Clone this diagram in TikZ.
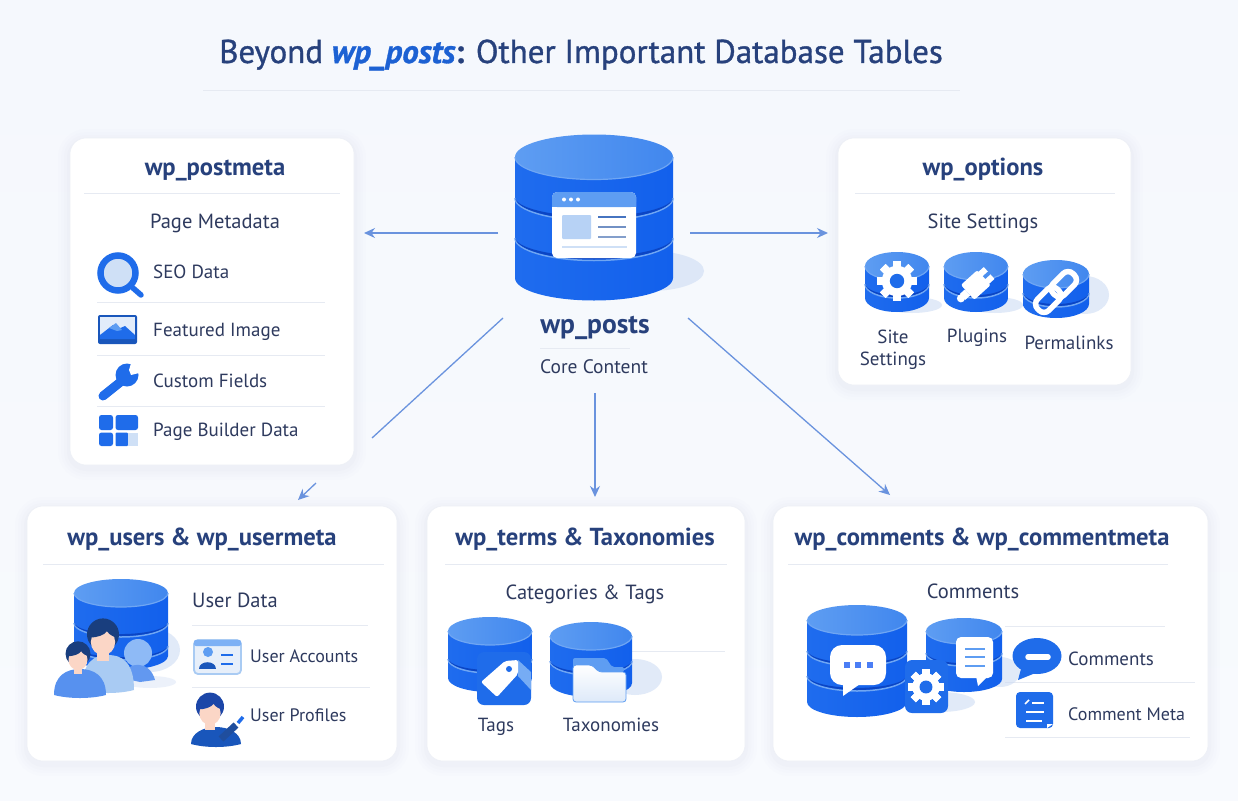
\documentclass[tikz,border=0pt]{standalone}
\usepackage{fontspec}
\setmainfont{PT Sans}
\usetikzlibrary{arrows.meta,calc}
\definecolor{bgc}{HTML}{F5F8FD}
\definecolor{navy}{HTML}{27417C}
\definecolor{txt}{HTML}{2E3A5E}
\definecolor{rulec}{HTML}{E6EAF2}
\definecolor{arrowc}{HTML}{6A93DE}
\definecolor{dbL}{HTML}{1F6CEE}
\definecolor{dbR}{HTML}{1260EC}
\definecolor{topL}{HTML}{5E9DF2}
\definecolor{topR}{HTML}{4187EE}
\definecolor{bandD}{HTML}{0B45C4}
\definecolor{bandL}{HTML}{6FA6F3}
\definecolor{shad}{HTML}{C9D9F3}
\definecolor{iconb}{HTML}{1F6CEA}
\definecolor{iconl}{HTML}{CFE0F6}
\definecolor{skin}{HTML}{FBD6C6}
\definecolor{hair}{HTML}{1F4E9E}
\definecolor{pale}{HTML}{A9CBF3}
\tikzset{
  cardbox/.style={draw=rulec!70,line width=.6pt,fill=white,rounded corners=16pt,inner sep=0pt},
  head/.style={font=\fontsize{24.6}{28}\selectfont\bfseries,text=navy,inner sep=0pt,text height=20pt,text depth=4.5pt},
  sub/.style={font=\fontsize{20.5}{23}\selectfont,text=txt,inner sep=0pt,text height=17pt,text depth=3.5pt},
  lab/.style={font=\fontsize{19}{22}\selectfont,text=txt,inner sep=0pt,text height=16pt,text depth=3pt},
  labl/.style={lab,anchor=west},
  labs/.style={labl,font=\fontsize{18}{21}\selectfont},
  sep/.style={draw=rulec,line width=.9pt},
  conn/.style={draw=arrowc,line width=1.3pt},
  arrowed/.style={conn,-{Stealth[length=11pt,width=10pt]}},
  softs/.style={fill=shad,opacity=.55},
}
% card: name x1 y1 x2 y2
\newcommand{\cardpanel}[5]{%
  \foreach \d/\o in {12/.010,9/.012,6/.016,3/.02}{
    \fill[blue!40!black!50,opacity=\o,rounded corners={16+\d}] ({#2-\d},{#3-\d+3}) rectangle ({#4+\d},{#5+\d+3});
  }
  \node[cardbox,minimum width={#4-#2},minimum height={#5-#3}] (#1) at ({(#2+#4)/2},{(#3+#5)/2}) {};
}
% cylinder: cx topy rx ry boty bands
\newcommand{\dbcyl}[6]{%
  \path[left color=dbL,right color=dbR] ({#1-#3},#2) -- ({#1-#3},#5) arc[start angle=180,end angle=0,x radius=#3,y radius=#4] -- ({#1+#3},#2) -- cycle;
  \foreach \b in {#6}{
    \draw[bandL,line width=1.5pt] ({#1-#3},{\b+1}) arc[start angle=180,end angle=0,x radius=#3,y radius=#4];
    \fill[bandD] ({#1-#3},\b) arc[start angle=180,end angle=0,x radius=#3,y radius=#4] arc[start angle=0,end angle=180,x radius=#3,y radius={#4*.86}] -- cycle;
  }
  \path[left color=topL,right color=topR] (#1,#2) ellipse [x radius=#3,y radius=#4];
  \draw[bandL,line width=1.2pt] ({#1-#3},#2) arc[start angle=180,end angle=0,x radius=#3,y radius=#4];
}
% gear: cx cy r toothcolor(hole)
\newcommand{\gearicon}[4]{%
  \begin{scope}[shift={(#1,#2)}]
    \foreach \a in {0,45,...,315}{
      \fill[white,rotate=\a] ({-#3*.2},{-#3}) rectangle ({#3*.2},{#3});
    }
    \fill[white] (0,0) circle ({#3*.76});
    \fill[#4] (0,0) circle ({#3*.36});
  \end{scope}
}
% bust: cx top halfwidth bottom colour
\newcommand{\bust}[5]{%
  \fill[#5] ({#1-#3},{#4-2}) .. controls ({#1-#3},{#2+6}) and ({#1-#3*.5},#2) .. (#1,#2) .. controls ({#1+#3*.5},#2) and ({#1+#3},{#2+6}) .. ({#1+#3},{#4-2}) .. controls ({#1+#3*.4},{#4+2}) and ({#1-#3*.4},{#4+2}) .. ({#1-#3},{#4-2}) -- cycle;
}
% head: cx cy r hair
\newcommand{\headicon}[4]{%
  \fill[skin] ({#1-#3*.35},#2) rectangle ({#1+#3*.35},{#2+#3*1.55});
  \fill[#4] (#1,{#2-#3*.1}) circle (#3);
  \fill[skin] (#1,{#2+#3*.38}) ellipse [x radius={#3*.76},y radius={#3*.82}];
  \fill[#4] ({#1-#3*.85},{#2+#3*.1}) .. controls ({#1-#3*.4},{#2+#3*.1}) and ({#1+#3*.1},{#2-#3*.05}) .. ({#1+#3*.25},{#2-#3*.3}) .. controls ({#1+#3*.4},{#2-#3*.05}) and ({#1+#3*.7},{#2+#3*.05}) .. ({#1+#3*.85},{#2+#3*.1}) -- ({#1+#3*.85},{#2-#3*.6}) -- ({#1-#3*.85},{#2-#3*.6}) -- cycle;
}
\begin{document}
\begin{tikzpicture}[x=1pt,y=-1pt]
\useasboundingbox (0,0) rectangle (1238,800);
\path[top color=bgc,bottom color=bgc!70!white] (0,0) rectangle (1238,800);

% title
\node[inner sep=0pt,text=navy,text height=24pt,text depth=8pt] (title) at (581,55) {\fontsize{33}{38}\selectfont\addfontfeature{FakeBold=1}Beyond {\bfseries\itshape\color{iconb!90!black}wp\_posts}{\bfseries:} Other Important Database Tables};
\draw[sep] (203,90) -- (960,90);

% cards
\cardpanel{metacard}{70}{138}{354}{465}
\cardpanel{optcard}{838}{138}{1131}{385}
\cardpanel{usercard}{27}{506}{397}{761}
\cardpanel{termcard}{427}{506}{745}{761}
\cardpanel{commcard}{773}{506}{1208}{761}

% connectors
\coordinate (a1s) at (498,233); \coordinate (a1e) at (364,233);
\coordinate (a2s) at (690,233); \coordinate (a2e) at (828,233);
\coordinate (a3s) at (503,318); \coordinate (a3e) at (372,438);
\coordinate (a3b) at (316,483); \coordinate (a3t) at (298,500);
\coordinate (a4s) at (595,393); \coordinate (a4e) at (595,497);
\coordinate (a5s) at (688,318); \coordinate (a5e) at (890,495);
\draw[arrowed] (a1s) -- (a1e);
\draw[arrowed] (a2s) -- (a2e);
\draw[conn] (a3s) -- (a3e);
\draw[arrowed] (a3b) -- (a3t);
\draw[arrowed] (a4s) -- (a4e);
\draw[arrowed] (a5s) -- (a5e);

% central database
\fill[softs] (650,271) ellipse [x radius=54,y radius=20];
\dbcyl{594}{157}{79}{22.5}{278}{197,237}
\fill[white,rounded corners=5pt] (552,192) rectangle (636,258);
\fill[topL,rounded corners=5pt] (552,192) rectangle (636,207);
\fill[topL] (552,201) rectangle (636,207);
\foreach \x in {564,571,578}{\fill[white] (\x,199.5) circle (2);}
\fill[iconl!75!bandL,rounded corners=1pt] (562,215) rectangle (591,239);
\draw[iconb!60!gray,line width=1.8pt] (598,217) -- (626,217);
\draw[iconb!50!gray!80,line width=1.8pt] (598,227) -- (626,227);
\draw[iconb!50!gray!70,line width=1.8pt] (598,237) -- (626,237);
\draw[iconl,line width=1.8pt] (562,247) -- (627,247);
\node[head,font=\fontsize{27.5}{30}\selectfont\bfseries] (posts) at (595,326) {wp\_posts};
\draw[sep] (540,348) -- (630,348);
\node[lab,font=\fontsize{19.5}{22}\selectfont] (core) at (594,367) {Core Content};

% wp_postmeta
\node[head] (metat) at (215,168) {wp\_postmeta};
\draw[sep] (84,193) -- (340,193);
\node[sub] (metas) at (215,222) {Page Metadata};
\draw[sep] (97,302) -- (325,302);
\draw[sep] (97,355) -- (325,355);
\draw[sep] (97,406) -- (325,406);
\node[labl] (seo) at (153,272) {SEO Data};
\node[labl] (img) at (153,330) {Featured Image};
\node[labl] (fields) at (153,381) {Custom Fields};
\node[labl] (builder) at (153,430) {Page Builder Data};
% magnifier
\draw[iconb,fill=iconl,line width=6.5pt] (118,273) circle (17.5);
\draw[iconb,line width=5.5pt,line cap=round] (133,288) -- (141,295);
% image icon
\fill[iconb!80!black,rounded corners=2pt] (98,315) rectangle (137,344);
\fill[iconl!60!white] (100,317) rectangle (135,339);
\fill[iconb] (100,339) -- (100,335) -- (113,325) -- (118,329) -- (125,326) -- (135,335) -- (135,339) -- cycle;
\fill[topL] (109,328) -- (116,323) -- (122,330) -- (117,331) -- cycle;
% wrench
\draw[iconb,line width=9pt,line cap=round] (103,396) -- (123,380);
\fill[iconb] (127,375) circle (11.5);
\fill[white] (129,370) -- (132,360) -- (141,367) -- (139,373) -- (131,375) -- cycle;
% grid
\begin{scope}[iconb]
\fill[rounded corners=2.5pt] (99,415) rectangle (113,430);
\fill[rounded corners=2.5pt] (115.5,415) rectangle (138,430);
\fill[rounded corners=2.5pt] (99,432.5) rectangle (113,446);
\fill[rounded corners=1pt] (115.5,432.5) rectangle (128,446);
\fill[iconl] (128,432.5) rectangle (138,446);
\end{scope}

% wp_options
\node[head] (optt) at (983,168) {wp\_options};
\draw[sep] (855,193) -- (1115,193);
\node[sub] (opts) at (983,222) {Site Settings};
\fill[softs] (912,305) ellipse [x radius=30,y radius=8];
\fill[softs] (995,305) ellipse [x radius=28,y radius=8];
\fill[softs] (1085,295) ellipse [x radius=24,y radius=19];
\dbcyl{897}{266}{32}{14}{298}{283}
\dbcyl{976}{266}{32}{14}{298}{283}
\dbcyl{1056}{274}{33}{14}{304}{292}
\gearicon{897}{281}{20}{iconb}
\begin{scope}[shift={(978,283)},rotate=42]
  \fill[white,rounded corners=2pt] (-14,-10) rectangle (8,10);
  \fill[white] (7,-8) rectangle (15,-2);
  \fill[white] (7,2) rectangle (15,8);
  \fill[white] (-21,-4) rectangle (-14,4);
  \fill[white] (-23,0) circle (4);
\end{scope}
\begin{scope}[shift={(1056,292)},rotate=45]
  \draw[white,line width=5.5pt,rounded corners=7pt] (-25,-8) rectangle (3,8);
  \draw[white,line width=5.5pt,rounded corners=7pt] (-3,-8) rectangle (25,8);
\end{scope}
\node[font=\fontsize{19}{22}\selectfont,text=txt,inner sep=0pt,align=center] (sset) at (893,350) {Site\\Settings};
\node[lab] (plug) at (977,336) {Plugins};
\node[lab] (perm) at (1069,343) {Permalinks};

% users
\node[head] (usert) at (202,538) {wp\_users \& wp\_usermeta};
\draw[sep] (43,564) -- (384,564);
\fill[softs] (150,650) ellipse [x radius=30,y radius=22];
\fill[shad,opacity=.35] (150,682) ellipse [x radius=26,y radius=6];
\dbcyl{121}{593}{47}{14}{656}{622,645}
% back person
\fill[topL!70!white] (138,653) circle (14);
\fill[iconb!70!white] (122,678) .. controls (126,660) and (150,660) .. (155,680) -- (140,682) -- cycle;
% middle person
\bust{108}{655}{26}{692}{pale}
\headicon{103}{636}{16}{hair!80!black}
% front person
\bust{80}{669}{26}{697}{iconb!75!white}
\headicon{78}{655}{12.5}{hair!80!black}
\node[sub,anchor=west] (userd) at (192,601) {User Data};
\draw[sep] (192,625) -- (368,625);
\draw[sep] (192,687) -- (370,687);
\node[labs] (acc) at (250,656) {User Accounts};
\node[labs] (prof) at (250,715) {User Profiles};
\draw[pale,fill=iconl!50!white,line width=1.8pt,rounded corners=4pt] (194,640) rectangle (241,674);
\fill[topL!80!white,rounded corners=2pt] (194,640) rectangle (241,646);
\fill[topL] (208,652) circle (5);
\fill[iconb!80!black] (199,669) .. controls (199,660) and (216,660) .. (216,669) -- cycle;
\draw[iconb,line width=2.6pt] (221,655) -- (233,655);
\draw[iconb,line width=2.6pt] (221,664) -- (233,664);
\bust{216}{727}{25}{746}{iconb!80!black}
\headicon{210}{708}{14}{hair!90!blue}
\draw[hair,line width=7pt] (221,739) -- (236,725);
\draw[iconb,line width=3.5pt] (238,723) -- (243,717);

% terms
\node[head] (termt) at (585,538) {wp\_terms \& Taxonomies};
\draw[sep] (445,564) -- (727,564);
\node[sub] (terms) at (585,593) {Categories \& Tags};
\draw[sep] (632,651) -- (725,651);
\fill[softs] (635,677) ellipse [x radius=27,y radius=18];
\dbcyl{490}{631}{42}{14}{678}{658}
\dbcyl{591}{636}{41}{14}{683}{660}
\fill[iconb,rounded corners=7pt] (477,652) rectangle (531,705);
\fill[topL!85!white] (531,672) -- (531,690) -- (518,676) -- (518,660) -- cycle;
\fill[white,rounded corners=2pt] (481,682) -- (505,661) -- (518,660) -- (518,674) -- (497,697) -- cycle;
\fill[iconb] (509,669) circle (3);
\fill[topL,rounded corners=2pt] (573,662) -- (573,658) -- (606,658) -- (612,667) -- (624,667) -- (624,672) -- (573,672) -- cycle;
\path[draw=topL,line width=.8pt,rounded corners=3pt,top color=white,bottom color=iconl!70!white] (573,665) -- (592,665) -- (599,672) -- (626,672) -- (626,702) -- (573,702) -- cycle;
\node[lab] (tags) at (496,725) {Tags};
\node[lab] (tax) at (611,725) {Taxonomies};

% comments
\node[head] (commt) at (982,538) {wp\_comments \& wp\_commentmeta};
\draw[sep] (788,564) -- (1168,564);
\node[sub] (comms) at (973,592) {Comments};
\draw[sep] (1005,626) -- (1165,626);
\draw[sep] (1005,682) -- (1195,682);
\draw[sep] (1005,737) -- (1190,737);
\fill[softs] (940,702) ellipse [x radius=35,y radius=10];
\fill[softs] (1000,672) ellipse [x radius=20,y radius=15];
\dbcyl{857}{620}{50}{15}{702}{650,675}
\dbcyl{964}{631}{38}{13}{679}{652}
% big bubble
\fill[white,rounded corners=12pt] (830,645) rectangle (886,685);
\fill[white] (843,680) -- (843,696) -- (860,684) -- cycle;
\foreach \x in {847,858,870}{\fill[topL!80!blue] ({\x-3},662) rectangle ({\x+3},668);}
% doc bubble
\fill[white,rounded corners=5pt] (956,637) rectangle (993,678);
\fill[white] (976,676) -- (978,686) -- (988,676) -- cycle;
\foreach \y in {649,657,666}{\draw[topL,line width=1.8pt] (965,\y) -- (985,\y);}
% gear tile
\fill[iconb,rounded corners=7pt] (905,660) rectangle (948,713);
\gearicon{926}{687}{18}{iconb}
% comments bubble
\fill[iconb] (1037,656) ellipse [x radius=24.5,y radius=18];
\fill[iconb] (1022,665) -- (1018,680) -- (1038,672) -- cycle;
\draw[white,line width=5.5pt,line cap=round] (1028,657) -- (1048,657);
% comment meta icon
\fill[iconb,rounded corners=4pt] (1016,692) rectangle (1053,728);
\fill[white] (1047,728) -- (1047,724) -- (1053,724) -- cycle;
\draw[white,line width=1.6pt] (1025,704) -- (1029,700);
\draw[white,line width=1.6pt] (1032,703) -- (1044,703);
\draw[white,line width=1.6pt] (1026,712) -- (1044,712);
\draw[white,line width=1.6pt] (1026,721) -- (1042,721);
\node[labl] (cl) at (1068,659) {Comments};
\node[labs] (cm) at (1068,714) {Comment Meta};
\end{tikzpicture}
\end{document}
